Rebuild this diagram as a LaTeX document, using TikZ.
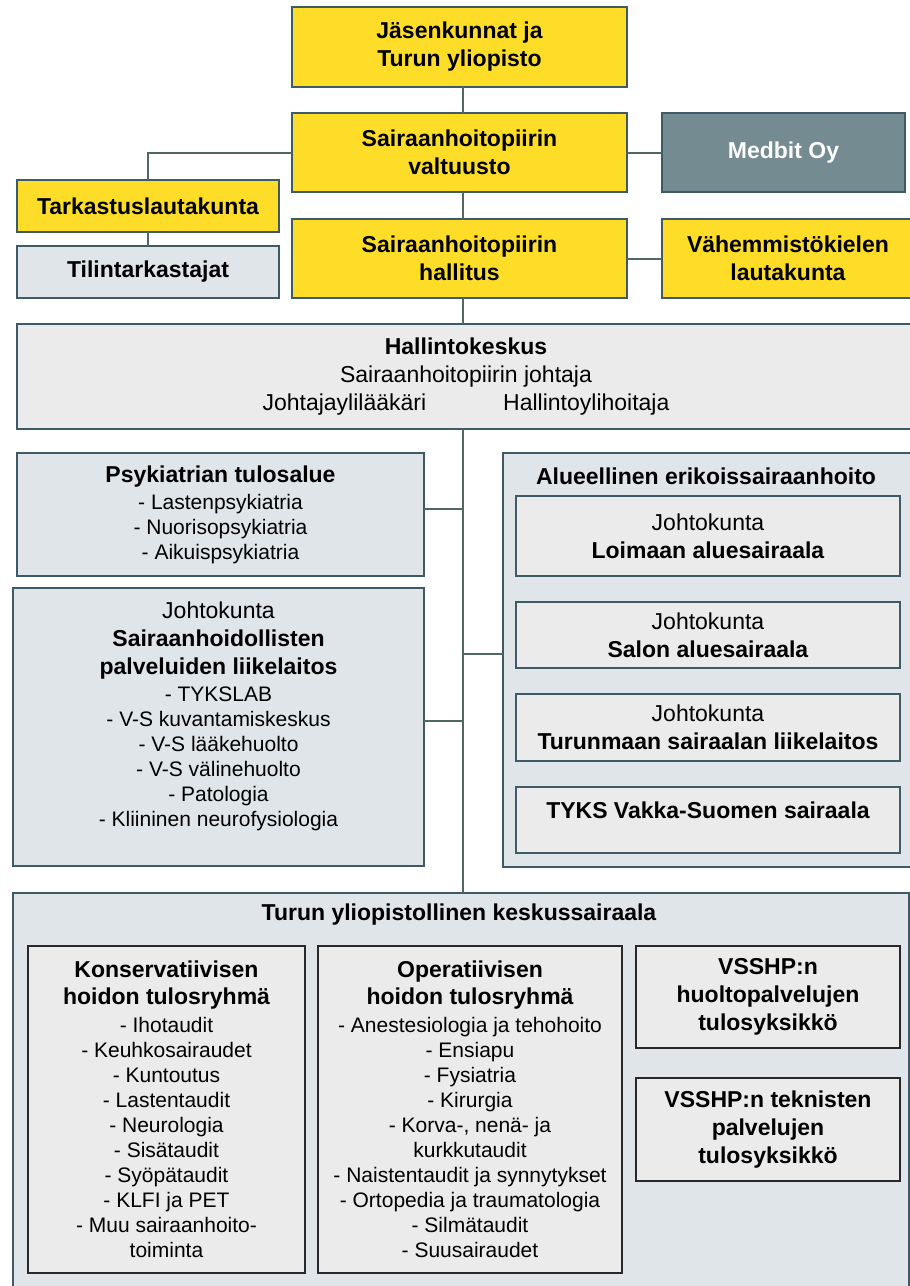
\documentclass[tikz,border=0pt]{standalone}
\usepackage{fontspec}
\setmainfont{Liberation Sans}

\definecolor{vsyellow}{RGB}{254,221,40}
\definecolor{vsedge}{RGB}{62,90,102}
\definecolor{vsline}{RGB}{80,105,95}
\definecolor{vsmedbit}{RGB}{116,140,145}
\definecolor{vsgrey}{RGB}{235,235,235}
\definecolor{vsblue}{RGB}{223,229,232}
\definecolor{vsdark}{RGB}{40,40,40}

\newcommand\hdfont{\fontsize{23}{28}\selectfont\bfseries}
\newcommand\rgfont{\fontsize{23}{28}\selectfont}
\newcommand\lsfont{\fontsize{21}{25}\selectfont}

\begin{document}
\begin{tikzpicture}[x=1pt,y=-1pt]
\tikzstyle{every node}=[rectangle, inner sep=0pt, outer sep=0pt, align=center, line width=2pt]
\tikzstyle{ybox}=[draw=vsedge, fill=vsyellow, font=\hdfont]
\tikzstyle{gbox}=[draw=vsedge, fill=vsgrey, font=\rgfont]
\tikzstyle{bbox}=[draw=vsedge, fill=vsblue, font=\hdfont]
\tikzstyle{ibox}=[draw=vsdark, fill=vsgrey, font=\lsfont]
\tikzstyle{link}=[draw=vsline, line width=2pt]
\useasboundingbox (0,0) rectangle (910,1286);
\coordinate (trunk) at (463,0);
% hallinto ylhaalla
\draw (459.5,47) node (jasen) [ybox, minimum width=335pt, minimum height=80pt] {Jäsenkunnat ja\\Turun yliopisto};
\draw (459.5,152.5) node (valtuusto) [ybox, minimum width=335pt, minimum height=79pt] {Sairaanhoitopiirin\\valtuusto};
\draw (783.5,152.5) node (medbit) [ybox, fill=vsmedbit, text=white, minimum width=243pt, minimum height=79pt] {Medbit Oy};
\draw (148,206) node (tarkastus) [ybox, minimum width=262pt, minimum height=52pt] {Tarkastuslautakunta};
\draw (148,272) node (tilin) [bbox, minimum width=262pt, minimum height=52pt] {Tilintarkastajat};
\draw (459.5,258.5) node (hallitus) [ybox, minimum width=335pt, minimum height=79pt] {Sairaanhoitopiirin\\hallitus};
\draw (788,258.5) node (vahemmisto) [ybox, minimum width=252pt, minimum height=79pt] {Vähemmistökielen\\lautakunta};
\draw (466,376.5) node (hallinto) [gbox, minimum width=898pt, minimum height=105pt] {\textbf{Hallintokeskus}\\Sairaanhoitopiirin johtaja\\Johtajaylilääkäri\hspace{77pt}Hallintoylihoitaja};
% vasen sarake
\draw (220.5,514.5) node (psyk) [bbox, font=\lsfont, minimum width=407pt, minimum height=123pt] {{\hdfont Psykiatrian tulosalue}\\[2pt]- Lastenpsykiatria\\- Nuorisopsykiatria\\- Aikuispsykiatria};
\draw (218.5,727) node (palvelut) [bbox, minimum width=411pt, minimum height=278pt] {};
\draw (218.5,716) node (palvelutext) [font=\lsfont] {{\rgfont Johtokunta}\\[3pt]{\hdfont Sairaanhoidollisten}\\[3pt]{\hdfont palveluiden liikelaitos}\\[2pt]- TYKSLAB\\- V-S kuvantamiskeskus\\- V-S lääkehuolto\\- V-S välinehuolto\\- Patologia\\- Kliininen neurofysiologia};
% oikea sarake
\draw (708.5,660) node (alue) [bbox, minimum width=411pt, minimum height=414pt] {};
\draw (706,476) node (aluetitle) [font=\hdfont] {Alueellinen erikoissairaanhoito};
\draw (708,536) node (loimaa) [gbox, minimum width=384pt, minimum height=80pt] {Johtokunta\\\textbf{Loimaan aluesairaala}};
\draw (708,635) node (salo) [gbox, minimum width=384pt, minimum height=66pt] {Johtokunta\\\textbf{Salon aluesairaala}};
\draw (708,727.5) node (turunmaa) [gbox, minimum width=384pt, minimum height=67pt] {Johtokunta\\\textbf{Turunmaan sairaalan liikelaitos}};
\draw (708,820) node (vakka) [gbox, minimum width=384pt, minimum height=66pt] {};
\draw (708,810) node (vakkatext) [font=\hdfont] {TYKS Vakka-Suomen sairaala};
% tyks
\draw (461,1091.5) node (tyks) [bbox, minimum width=896pt, minimum height=397pt] {};
\draw (459,915) node (tykstitle) [font=\hdfont] {Turun yliopistollinen keskussairaala};
\draw (166.5,1109.5) node (kons) [ibox, minimum width=277pt, minimum height=327pt] {{\hdfont Konservatiivisen}\\[2pt]{\hdfont hoidon tulosryhmä}\\[3pt]- Ihotaudit\\- Keuhkosairaudet\\- Kuntoutus\\- Lastentaudit\\- Neurologia\\- Sisätaudit\\- Syöpätaudit\\- KLFI ja PET\\- Muu sairaanhoito-\\toiminta};
\draw (470,1109.5) node (oper) [ibox, minimum width=304pt, minimum height=327pt] {{\hdfont Operatiivisen}\\[2pt]{\hdfont hoidon tulosryhmä}\\[3pt]- Anestesiologia ja tehohoito\\- Ensiapu\\- Fysiatria\\- Kirurgia\\- Korva-, nenä- ja\\kurkkutaudit\\- Naistentaudit ja synnytykset\\- Ortopedia ja traumatologia\\- Silmätaudit\\- Suusairaudet};
\draw (768,997) node (huolto) [ibox, font=\hdfont, minimum width=264pt, minimum height=102pt] {VSSHP:n\\huoltopalvelujen\\tulosyksikkö};
\draw (768,1129.5) node (tekn) [ibox, font=\hdfont, minimum width=264pt, minimum height=103pt] {VSSHP:n teknisten\\palvelujen\\tulosyksikkö};
% yhteydet
\draw[link] (jasen.south -| trunk) -- (valtuusto.north -| trunk);
\draw[link] (valtuusto.west) -| (tarkastus.north);
\draw[link] (tarkastus.south) -- (tilin.north);
\draw[link] (valtuusto.east) -- (medbit.west);
\draw[link] (valtuusto.south -| trunk) -- (hallitus.north -| trunk);
\draw[link] (hallitus.east) -- (vahemmisto.west);
\draw[link] (hallitus.south -| trunk) -- (hallinto.north -| trunk);
\draw[link] (hallinto.south -| trunk) -- (tyks.north -| trunk);
\draw[link] ([yshift=5.5pt]psyk.east) -- ([yshift=5.5pt]psyk.east -| trunk);
\draw[link] ([yshift=6pt]palvelut.east) -- ([yshift=6pt]palvelut.east -| trunk);
\draw[link] ([yshift=6pt]alue.west) -- ([yshift=6pt]alue.west -| trunk);
\end{tikzpicture}
\end{document}
